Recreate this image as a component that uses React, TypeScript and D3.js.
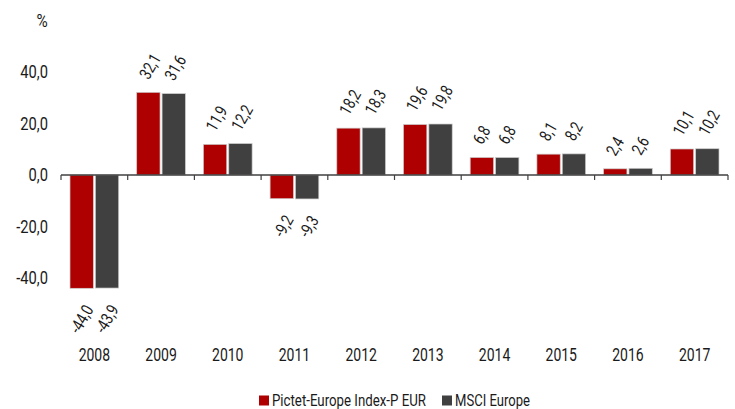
import React from "react";
import * as d3 from "d3";

const years = ["2008","2009","2010","2011","2012","2013","2014","2015","2016","2017"];
const series = ["Pictet-Europe Index-P EUR", "MSCI Europe"];
const pictet = [-44.0, 32.1, 11.9, -9.2, 18.2, 19.6, 6.8, 8.1, 2.4, 10.1];
const msci = [-43.9, 31.6, 12.2, -9.3, 18.3, 19.8, 6.8, 8.2, 2.6, 10.2];
const yTicks = [-40, -20, 0, 20, 40];
const colors = ["#ae0000", "#404040"];

const W = 735, H = 409;
const FONT = "Roboto, 'DejaVu Sans Condensed', sans-serif";
const SX = 0.8;
const fmt = (v: number) => v.toFixed(1).replace(".", ",");

export default function App() {
  const x0 = d3.scaleBand<string>().domain(years).range([61, 728]);
  const bw = x0.bandwidth();
  const x1 = d3.scaleBand<string>().domain(series).range([9, bw - 9]).paddingInner(0.08);
  const y = d3.scaleLinear().domain([-40, 40]).range([278, 72]);
  const data = [pictet, msci];
  const boundaries = [...years.map((d) => x0(d) as number), 728];

  return (
    <svg width={W} height={H} style={{ position: "absolute", left: 0, top: 0 }} fontFamily={FONT}>
      <text transform={`translate(42,21) scale(0.85,1)`} dy="0.36em" fontSize={18} textAnchor="middle" fill="#1a1a1a">%</text>
      {yTicks.map((t) => (
        <text key={t} transform={`translate(48,${y(t)}) scale(0.84,1)`} dy="0.36em" fontSize={17.5} textAnchor="end" fill="#1a1a1a">{fmt(t)}</text>
      ))}
      {years.map((yr, i) => (
        <g key={yr} transform={`translate(${x0(yr)},0)`}>
          {series.map((s, j) => {
            const v = data[j][i];
            const bx = x1(s) as number;
            const top = Math.min(y(v), y(0));
            const h = Math.abs(y(v) - y(0));
            const cx = bx + x1.bandwidth() / 2;
            const lx = v >= 0 ? cx - 5 : cx + 7;
            const ly = v >= 0 ? y(v) - 15 : y(v) + 18;
            return (
              <g key={s}>
                <rect x={bx} y={top} width={x1.bandwidth()} height={h} fill={colors[j]} stroke="#cccccc" strokeWidth={0.7} />
                <text
                  transform={`translate(${lx},${ly}) rotate(-60) scale(${SX},1)`}
                  fontSize={17}
                  textAnchor={v >= 0 ? "start" : "end"}
                  dy="0.36em"
                  fill="#1a1a1a"
                >{fmt(v)}</text>
              </g>
            );
          })}
          <text transform={`translate(${bw / 2},355) scale(${SX},1)`} dy="0.36em" fontSize={17.5} textAnchor="middle" fill="#1a1a1a">{yr}</text>
        </g>
      ))}
      <line x1={61} x2={728} y1={y(0)} y2={y(0)} stroke="#404040" strokeWidth={1.5} />
      {boundaries.map((b, i) => (
        <line key={i} x1={b} x2={b} y1={y(0)} y2={y(0) + 5} stroke="#404040" strokeWidth={1.2} />
      ))}
      <g>
        <rect x={259} y={395.5} width={10} height={10} fill={colors[0]} />
        <text x={272} y={400.5} dy="0.36em" fontSize={16} fill="#1a1a1a" textLength={154} lengthAdjust="spacingAndGlyphs">{series[0]}</text>
        <rect x={442} y={395.5} width={10} height={10} fill={colors[1]} />
        <text x={455} y={400.5} dy="0.36em" fontSize={16} fill="#1a1a1a" textLength={75} lengthAdjust="spacingAndGlyphs">{series[1]}</text>
      </g>
    </svg>
  );
}
